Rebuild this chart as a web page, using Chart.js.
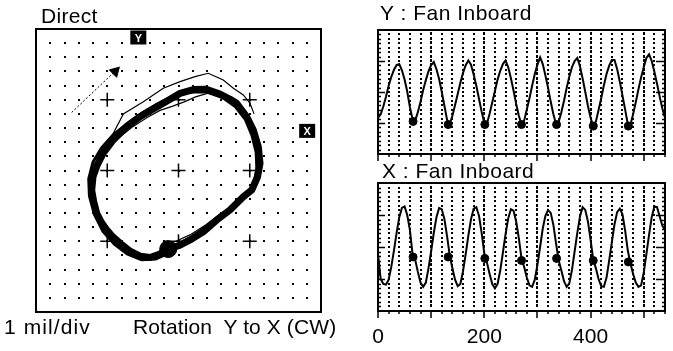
<!DOCTYPE html>
<html>
<head>
<meta charset="utf-8">
<script src="https://cdn.jsdelivr.net/npm/chart.js@4.4.0/dist/chart.umd.min.js"></script>
<style>
  body { margin: 0; background: #fff; width: 673px; height: 351px; overflow: hidden; position: relative;
         font-family: "Liberation Sans", Arial, sans-serif; }
  canvas { position: absolute; }
  .lbl { position: absolute; font-size: 21px; line-height: 1; color: #000; white-space: pre; }
</style>
</head>
<body>
<canvas id="orbit" width="340" height="351" style="left:0;top:0"></canvas>
<canvas id="waveY" width="333" height="170" style="left:340px;top:0"></canvas>
<canvas id="waveX" width="333" height="181" style="left:340px;top:170px"></canvas>

<div class="lbl" style="left:41px;top:5px;letter-spacing:0.3px">Direct</div>
<div class="lbl" style="left:380px;top:2px;letter-spacing:0.5px">Y : Fan Inboard</div>
<div class="lbl" style="left:382px;top:160px;letter-spacing:0.5px">X : Fan Inboard</div>
<div class="lbl" style="left:4px;top:316px;letter-spacing:1.1px">1 mil/div</div>
<div class="lbl" style="left:133px;top:316px;letter-spacing:0.1px">Rotation  Y to X (CW)</div>

<script>
// ---- orbit data (mils) ----
const orbitMain = [
  [-0.72,-5.55],[-1.4,-5.95],[-2.0,-6.15],[-2.7,-6.05],[-3.4,-5.7],[-4.1,-5.14],[-4.6,-4.7],
  [-5.04,-4.2],[-5.45,-3.6],[-5.74,-3.02],[-5.95,-2.2],[-6.09,-1.4],[-6.0,-0.44],[-5.7,0.4],
  [-5.28,1.22],[-4.58,2.16],[-3.64,3.1],[-2.7,3.8],[-1.77,4.35],[-0.83,4.9],[0.11,5.45],
  [1.04,5.72],[1.9,5.75],[2.91,5.4],[3.6,5.05],[4.08,4.75],[4.79,3.8],[5.25,2.86],[5.6,1.68],
  [5.72,0.51],[5.55,-0.44],[5.14,-1.38],[4.55,-1.85],[3.61,-2.79],[2.68,-3.5],[1.74,-4.33],
  [0.81,-4.91],[0.11,-5.27],[-0.72,-5.55]
];
const orbitSecond = [
  [-0.5,-5.75],[-1.6,-6.25],[-2.6,-6.3],[-3.6,-5.9],[-4.5,-5.2],[-5.3,-4.3],[-5.9,-3.1],
  [-6.25,-1.8],[-6.3,-0.6],[-6.0,0.6],[-5.4,1.6],[-4.6,2.5],[-3.5,3.4],[-2.5,4.1],[-1.5,4.7],
  [-0.4,5.25],[0.8,5.55],[2.0,5.55],[3.1,5.15],[4.0,4.5],[4.7,3.6],[5.15,2.5],[5.45,1.3],
  [5.5,0.1],[5.3,-0.9],[4.8,-1.7],[3.9,-2.5],[2.9,-3.2],[1.9,-4.0],[0.9,-4.7],[0.0,-5.2],[-0.5,-5.75]
];
const orbitOuter = [
  [-4.9,2.0],[-3.87,4.0],[-2.47,4.86],[-1.07,5.81],[0.11,6.28],[1.16,6.63],[2.09,6.87],
  [3.14,6.4],[3.85,5.81],[4.55,5.34],[5.02,4.75],[5.3,4.0]
];
const orbitInner = [
  [-4.2,2.3],[-3.2,3.1],[-2.2,3.75],[-1.3,4.25],[-0.4,4.55],[0.4,4.85],[1.2,5.2],[2.2,5.5],[3.2,5.3]
];
const orbitLowerRight = [
  [-0.3,-5.05],[0.8,-4.55],[1.9,-3.85],[2.9,-3.1],[3.9,-2.45],[4.8,-1.6]
];
const keyphasorOrbit = [[-0.72,-5.55]];
const crossMarks = [[-5,5],[0,5],[5,5],[-5,0],[0,0],[5,0],[-5,-5],[0,-5],[5,-5]];
const rotationArrow = [[-7.5,4.1],[-4.1,7.35]];
const arrowHead = [[-4.45,7.0]];

// ---- waveform data ----
const sampleTimes = [];
for (let t = 0; t <= 540; t += 5) sampleTimes.push(t);

const yWave = [
  -5.0,-4.3,-2.8,-0.9,1.2,2.9,4.3,5.2,5.4,4.2,
  2.4,0.1,-2.9,-5.3,-5.5,-3.9,-1.9,0.4,2.3,4.0,
  5.2,5.8,4.4,2.5,0.0,-2.7,-5.4,-6.2,-4.6,-2.5,
  -0.4,1.8,3.7,5.2,6.1,5.3,3.4,1.2,-1.3,-3.8,
  -6.0,-6.1,-4.2,-2.0,0.2,2.4,4.1,5.4,6.1,4.8,
  2.7,0.3,-2.3,-4.6,-6.3,-5.5,-3.4,-1.2,1.2,3.5,
  5.3,6.7,5.4,3.2,0.8,-1.9,-4.3,-6.2,-5.8,-3.9,
  -1.7,0.8,3.0,4.8,6.0,6.6,5.0,2.6,0.0,-2.7,
  -5.0,-6.6,-5.7,-3.5,-1.2,1.3,3.5,5.1,6.2,6.2,
  4.4,2.0,-0.7,-3.4,-6.2,-6.3,-4.3,-2.0,0.5,2.8,
  4.8,6.6,7.3,6.0,3.9,1.6,-0.9,-3.2,-5.0
];
const xWave = [
  -1.0,-4.5,-5.2,-5.3,-4.6,-2.8,-0.5,2.0,4.2,5.5,
  5.7,4.5,2.4,-1.0,-1.8,-3.5,-5.0,-5.6,-5.0,-3.0,
  -0.6,2.0,4.2,5.5,5.3,3.9,1.5,-1.2,-3.0,-4.6,
  -5.5,-5.2,-3.4,-1.0,1.6,3.9,5.4,5.6,4.4,2.0,
  -0.9,-2.2,-3.8,-5.2,-5.8,-5.2,-3.3,-0.8,1.8,4.0,
  5.3,5.1,3.6,1.2,-1.6,-2.8,-4.3,-5.4,-5.6,-4.6,
  -2.5,0.0,2.6,4.4,5.2,4.8,3.1,0.5,-1.9,-3.3,
  -4.8,-5.6,-5.1,-3.2,-0.6,2.0,4.3,5.6,5.2,3.6,
  1.0,-1.8,-3.0,-4.5,-5.5,-5.6,-4.3,-1.9,0.7,3.2,
  4.9,5.4,4.6,2.3,-0.5,-2.3,-3.8,-5.0,-5.6,-5.4,
  -3.6,-1.0,1.7,4.2,5.7,5.6,4.3,3.0,2.4
];
const keyTimes = [66, 132, 201, 270, 336, 405, 471];
const keyY = [-5.7, -6.3, -6.3, -6.3, -6.3, -6.6, -6.6];
const keyX = [-1.4, -1.4, -1.6, -1.9, -1.6, -1.9, -2.1];

const timeGrid = [];
for (let t = 0; t <= 540; t += 20) timeGrid.push(t);
const timeLabels = [0, 200, 400];

const FONT = '21px "Liberation Sans", Arial, sans-serif';

function pairs(list) {
  return list.map(p => ({ x: p[0], y: p[1] }));
}
function series(times, values) {
  return values.map((v, i) => ({ x: times[i], y: v }));
}

// grid dots, frame and probe markers for the orbit
const orbitDecor = {
  id: 'orbitDecor',
  beforeDatasetsDraw(chart) {
    const { ctx, scales: { x, y } } = chart;
    ctx.save();
    ctx.fillStyle = '#000';
    for (let i = -9; i <= 9; i++) {
      for (let j = -9; j <= 9; j++) {
        ctx.fillRect(Math.round(x.getPixelForValue(i)) - 1, Math.round(y.getPixelForValue(j)) - 1, 2, 2);
      }
    }
    ctx.restore();
  },
  afterDatasetsDraw(chart) {
    const { ctx, chartArea: a, scales: { x, y } } = chart;
    ctx.save();
    ctx.strokeStyle = '#000';
    ctx.lineWidth = 2;
    ctx.strokeRect(a.left, a.top, a.width, a.height);
    // probe markers
    [['Y', -2.82, 9.4], ['X', 9.03, 2.8]].forEach(([txt, vx, vy]) => {
      const px = x.getPixelForValue(vx), py = y.getPixelForValue(vy);
      ctx.fillStyle = '#000';
      ctx.fillRect(px - 8, py - 7, 16, 14);
      ctx.fillStyle = '#fff';
      ctx.font = 'bold 11px "Liberation Sans", sans-serif';
      ctx.textAlign = 'center';
      ctx.textBaseline = 'middle';
      ctx.fillText(txt, px, py + 1);
    });
    ctx.restore();
  }
};

// dotted time grid, frame, ticks and time labels for the waveforms
const waveDecor = {
  id: 'waveDecor',
  beforeDatasetsDraw(chart, args, opts) {
    const { ctx, scales: { x, y } } = chart;
    ctx.save();
    ctx.fillStyle = '#000';
    const rows = [];
    for (let k = 1; k < opts.minorCount; k++) rows.push(y.getPixelForValue(y.min + k * opts.minorStep));
    timeGrid.forEach(t => {
      if (t <= x.min || t >= x.max) return;
      const px = Math.round(x.getPixelForValue(t));
      rows.forEach(py => {
        if (t % 100 === 0) ctx.fillRect(px - 1, Math.round(py) - 2, 2, 3);
        else ctx.fillRect(px - 1, Math.round(py) - 1, 2, 2);
      });
    });
    ctx.restore();
  },
  afterDatasetsDraw(chart, args, opts) {
    const { ctx, chartArea: a, scales: { x, y } } = chart;
    ctx.save();
    ctx.strokeStyle = '#000';
    ctx.lineWidth = 2;
    ctx.strokeRect(a.left, a.top, a.width, a.height);
    ctx.lineWidth = 1.5;
    ctx.beginPath();
    for (let k = 1; k < opts.minorCount; k++) {
      const v = y.min + k * opts.minorStep;
      const py = Math.round(y.getPixelForValue(v)) + 0.5;
      const major = k % opts.perMajor === 0;
      ctx.moveTo(a.left, py); ctx.lineTo(a.left + (major ? 7 : 3), py);
      ctx.moveTo(a.right, py); ctx.lineTo(a.right - (major ? 9 : 3), py);
    }
    timeGrid.forEach(t => {
      const px = Math.round(x.getPixelForValue(t));
      ctx.moveTo(px, a.bottom); ctx.lineTo(px, a.bottom + (t % 100 === 0 ? 7 : 3));
    });
    ctx.stroke();
    if (opts.labels) {
      ctx.fillStyle = '#000';
      ctx.font = FONT;
      ctx.textAlign = 'center';
      ctx.textBaseline = 'top';
      timeLabels.forEach(t => ctx.fillText(String(t), x.getPixelForValue(t), a.bottom + 16));
    }
    ctx.restore();
  }
};

new Chart(document.getElementById('orbit'), {
  type: 'scatter',
  data: {
    datasets: [
      { data: pairs(keyphasorOrbit), pointRadius: 8.5, pointBackgroundColor: '#000', pointBorderColor: '#000' },
      { data: pairs(orbitInner), showLine: true, borderColor: '#000', borderWidth: 1.2, pointRadius: 0 },
      { data: pairs(orbitOuter), showLine: true, borderColor: '#000', borderWidth: 1.2, pointRadius: 0 },
      { data: pairs(orbitLowerRight), showLine: true, borderColor: '#000', borderWidth: 1.2, pointRadius: 0 },
      { data: pairs(orbitMain), showLine: true, borderColor: '#000', borderWidth: 7, borderJoinStyle: 'round',
        borderCapStyle: 'round', pointRadius: 0 },
      { data: pairs(orbitSecond), showLine: true, borderColor: '#000', borderWidth: 3, pointRadius: 0 },
      { data: pairs(arrowHead), pointStyle: 'triangle', rotation: 45, pointRadius: 6,
        pointBackgroundColor: '#000', pointBorderColor: '#000' },
      { data: pairs(rotationArrow), showLine: true, borderColor: '#000', borderWidth: 1,
        borderDash: [2, 2], pointRadius: 0 },
      { data: pairs(crossMarks), pointStyle: 'cross', pointRadius: 7, borderWidth: 1.5,
        pointBorderColor: '#000', order: 5 }
    ]
  },
  options: {
    responsive: false, animation: false, devicePixelRatio: 1,
    layout: { padding: { left: 36, top: 29, right: 19, bottom: 39 } },
    scales: {
      x: { type: 'linear', min: -10, max: 10, display: false },
      y: { type: 'linear', min: -10, max: 10, display: false }
    },
    plugins: { legend: { display: false }, tooltip: { enabled: false } }
  },
  plugins: [orbitDecor]
});

function waveChart(id, values, keys, range, padding, labels) {
  return new Chart(document.getElementById(id), {
    type: 'scatter',
    data: {
      datasets: [
        { data: series(keyTimes, keys), pointRadius: 4, pointBackgroundColor: '#000', pointBorderColor: '#000' },
        { data: series(sampleTimes, values), showLine: true, borderColor: '#000', borderWidth: 2,
          pointRadius: 0, tension: 0 }
      ]
    },
    options: {
      responsive: false, animation: false, devicePixelRatio: 1,
      layout: { padding },
      scales: {
        x: { type: 'linear', min: 0, max: 540, display: false },
        y: { type: 'linear', min: -range, max: range, display: false }
      },
      plugins: {
        legend: { display: false }, tooltip: { enabled: false },
        waveDecor: { minorStep: range / 14, minorCount: 28, perMajor: 7, labels }
      }
    },
    plugins: [waveDecor]
  });
}

waveChart('waveY', yWave, keyY, 12, { left: 38, top: 30, right: 8, bottom: 16 }, false);
waveChart('waveX', xWave, keyX, 9, { left: 38, top: 13, right: 8, bottom: 40 }, true);
</script>
</body>
</html>
